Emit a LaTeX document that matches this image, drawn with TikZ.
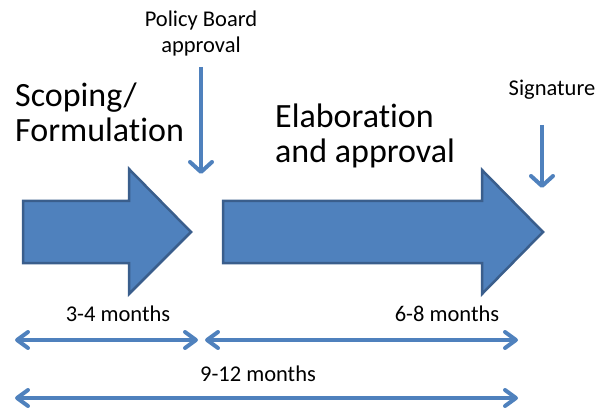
\documentclass[tikz,border=0pt]{standalone}
\usepackage{fontspec}
\setmainfont{Carlito}[Ligatures=NoCommon]
\usetikzlibrary{arrows.meta}
\definecolor{accent}{HTML}{4F81BD}
\definecolor{accentdark}{HTML}{3A5E8C}
\begin{document}
\begin{tikzpicture}[x=1pt,y=-1pt,
  bigarrow/.style={fill=accent, draw=accentdark, line width=2.5pt, line join=miter},
  bigtext/.style={font=\fontsize{34}{35}\selectfont, inner sep=0pt, align=left},
  smalltext/.style={font=\fontsize{22.5}{26}\selectfont, inner sep=0pt, align=center},
  marker/.style={draw=accent, line width=4pt, -{Straight Barb[length=10pt,width=22pt,round]}},
  spanarrow/.style={draw=accent, line width=4pt,
    {Straight Barb[length=11pt,width=16pt,round]}-{Straight Barb[length=11pt,width=16pt,round]}},
]
\useasboundingbox (0,0) rectangle (603,409);

% big block arrows
\draw[bigarrow] (23,201) -- (129,201) -- (129,169) -- (191,232) -- (129,294) -- (129,263) -- (23,263) -- cycle;
\draw[bigarrow] (223,201) -- (482,201) -- (482,170) -- (543,232) -- (482,294) -- (482,263) -- (223,263) -- cycle;

% big labels
\node[bigtext, anchor=base west] (scope) at (15,142) {Scoping/\\Formulation};
\node[bigtext, anchor=base west] (elab) at (275,163) {Elaboration\\and approval};

% milestone labels
\node[smalltext, anchor=base] (pb) at (201,53) {Policy Board\\approval};
\node[smalltext, anchor=base] (sig) at (552,96) {Signature};

% milestone markers
\coordinate (pbtop) at (201,67);
\coordinate (pbtip) at (201,174);
\coordinate (sigtop) at (542,125);
\coordinate (sigtip) at (542,188);
\draw[marker] (pbtop) -- (pbtip);
\draw[marker] (sigtop) -- (sigtip);

% duration spans
\coordinate (a1) at (15,340);
\coordinate (a2) at (198,340);
\coordinate (b1) at (205,340);
\coordinate (b2) at (518,340);
\coordinate (c1) at (15,398);
\coordinate (c2) at (518,398);
\draw[spanarrow] (a1) -- (a2);
\draw[spanarrow] (b1) -- (b2);
\draw[spanarrow] (c1) -- (c2);

\node[smalltext, anchor=base] (d1) at (118,321) {3-4 months};
\node[smalltext, anchor=base] (d2) at (447,321) {6-8 months};
\node[smalltext, anchor=base] (d3) at (258,381) {9-12 months};
\end{tikzpicture}
\end{document}
